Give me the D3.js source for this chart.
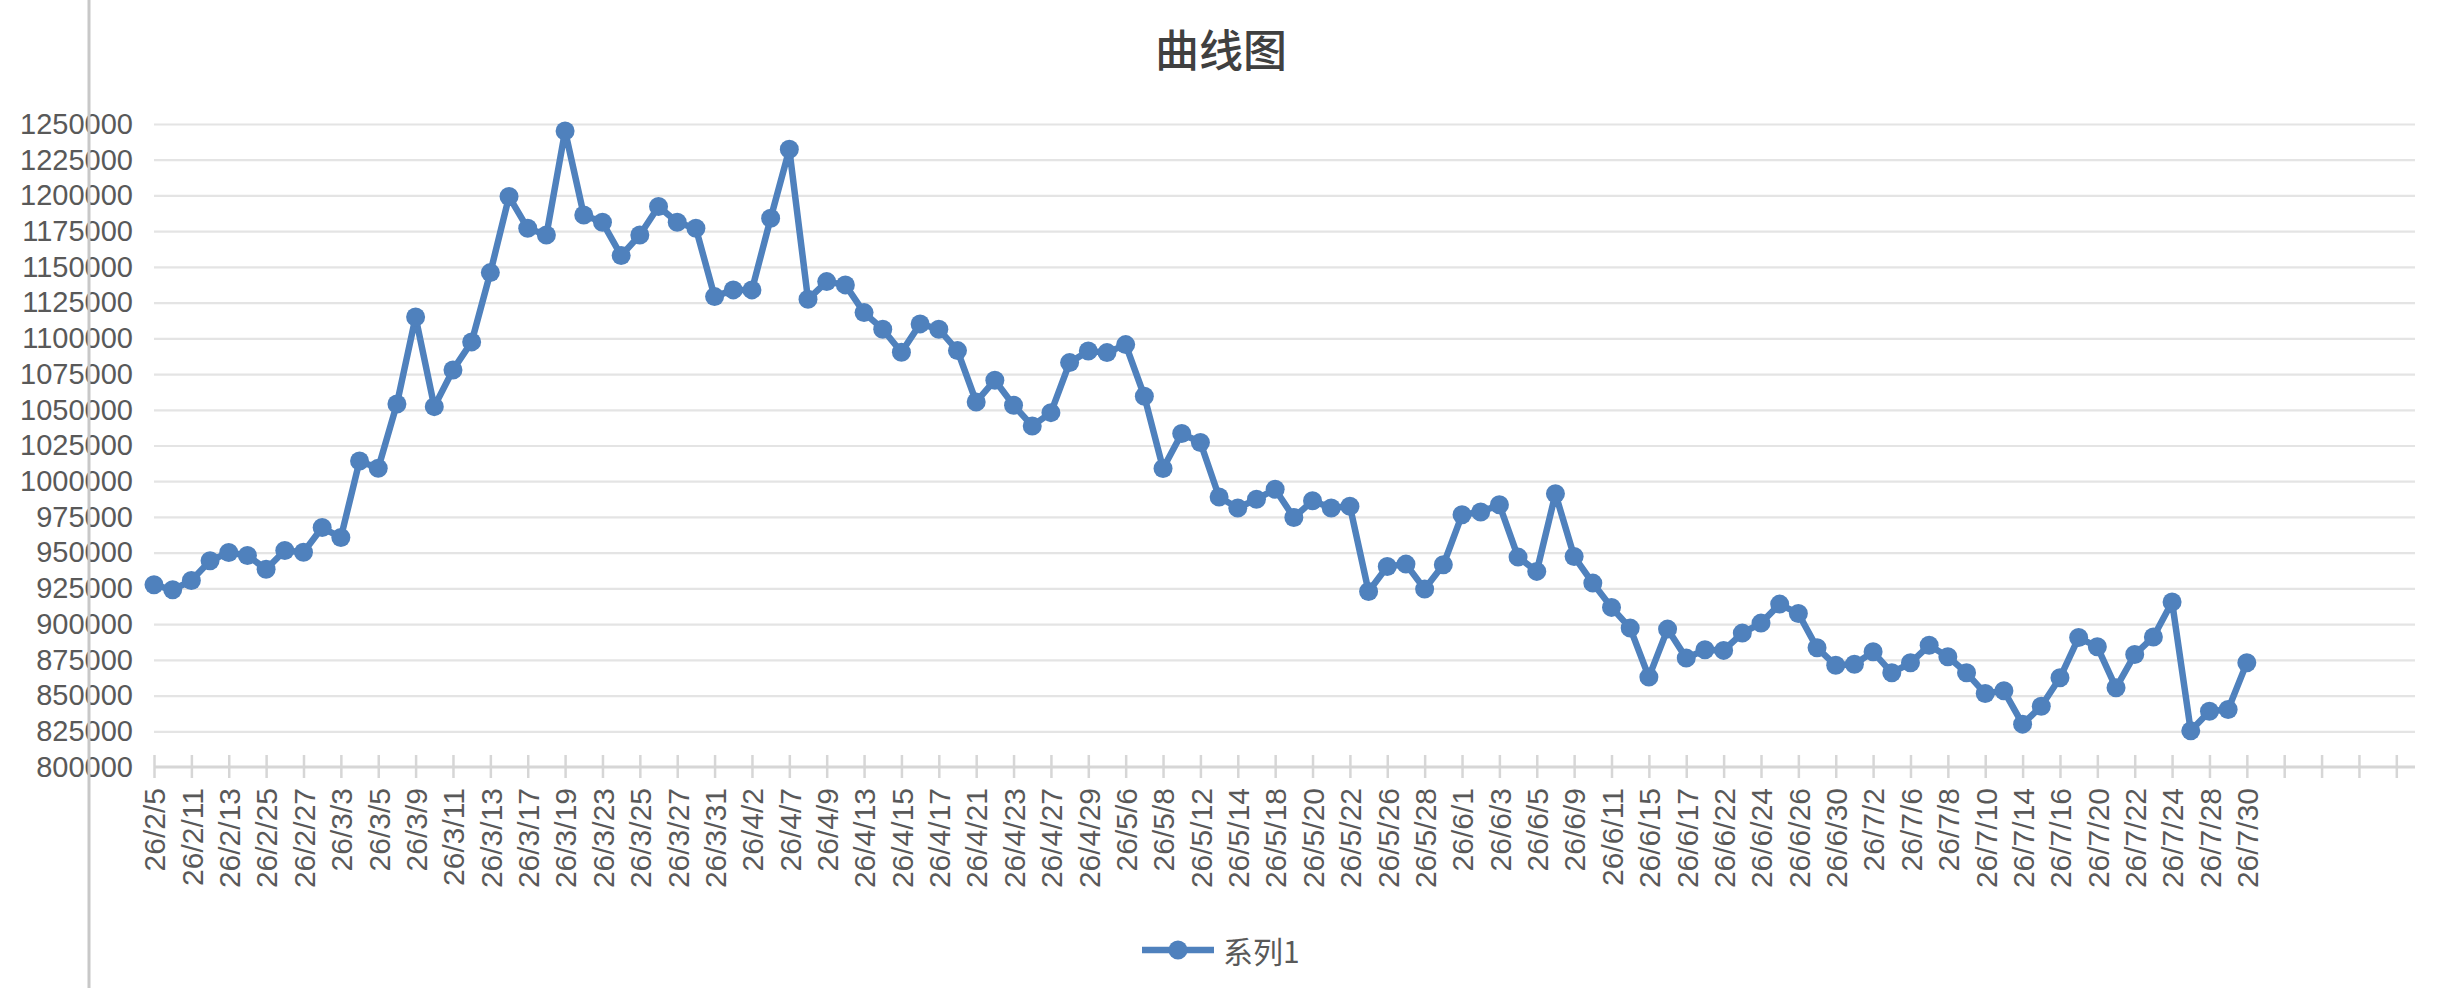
<!DOCTYPE html>
<html><head><meta charset="utf-8">
<script src="https://cdn.jsdelivr.net/npm/d3@7"></script>
<style>html,body{margin:0;padding:0;background:#fff;} svg{display:block;}</style>
</head><body>
<svg id="chart" width="2438" height="988"></svg>
<script>
const title = "曲线图";
const seriesName = "系列1";
const categories = [
"26/2/5","26/2/10","26/2/11","26/2/12","26/2/13","26/2/24","26/2/25","26/2/26","26/2/27","26/3/2",
"26/3/3","26/3/4","26/3/5","26/3/6","26/3/9","26/3/10","26/3/11","26/3/12","26/3/13","26/3/16",
"26/3/17","26/3/18","26/3/19","26/3/20","26/3/23","26/3/24","26/3/25","26/3/26","26/3/27","26/3/30",
"26/3/31","26/4/1","26/4/2","26/4/3","26/4/7","26/4/8","26/4/9","26/4/10","26/4/13","26/4/14",
"26/4/15","26/4/16","26/4/17","26/4/20","26/4/21","26/4/22","26/4/23","26/4/24","26/4/27","26/4/28",
"26/4/29","26/4/30","26/5/6","26/5/7","26/5/8","26/5/11","26/5/12","26/5/13","26/5/14","26/5/15",
"26/5/18","26/5/19","26/5/20","26/5/21","26/5/22","26/5/25","26/5/26","26/5/27","26/5/28","26/5/29",
"26/6/1","26/6/2","26/6/3","26/6/4","26/6/5","26/6/8","26/6/9","26/6/10","26/6/11","26/6/12",
"26/6/15","26/6/16","26/6/17","26/6/18","26/6/22","26/6/23","26/6/24","26/6/25","26/6/26","26/6/29",
"26/6/30","26/7/1","26/7/2","26/7/3","26/7/6","26/7/7","26/7/8","26/7/9","26/7/10","26/7/13",
"26/7/14","26/7/15","26/7/16","26/7/17","26/7/20","26/7/21","26/7/22","26/7/23","26/7/24","26/7/27",
"26/7/28","26/7/29","26/7/30"
];
const values = [
927500, 924000, 930500, 944300, 950100, 948000, 938400, 951500, 950300, 967600,
960600, 1014200, 1009100, 1054100, 1114900, 1052200, 1077900, 1097500, 1146000, 1199200,
1177000, 1172300, 1245100, 1186300, 1181200, 1157900, 1172300, 1192200, 1181200, 1177000,
1129200, 1133900, 1133900, 1184000, 1232300, 1127300, 1139700, 1137400, 1118000, 1106400,
1090300, 1110100, 1106400, 1091400, 1055500, 1070700, 1053200, 1038700, 1048000, 1083000,
1091200, 1090000, 1095600, 1059500, 1008900, 1033400, 1027100, 989000, 981300, 987400,
994400, 974600, 986300, 981300, 982500, 922800, 940300, 942000, 924500, 941500,
976500, 978400, 983500, 946900, 936900, 991200, 947300, 928700, 911700, 897200,
862900, 896500, 876200, 882000, 881600, 893700, 900700, 914000, 907400, 883400,
871200, 871900, 880600, 865900, 872900, 885200, 877100, 865900, 851400, 853300,
830000, 842500, 862400, 890600, 884100, 855400, 878700, 891000, 915500, 825300,
839000, 840200, 872900
];
const blankCategoryCount = 9;
const yTicks = d3.range(800000, 1250001, 25000);

const svg = d3.select("#chart");
const plot = {left: 154, right: 2415, top: 124, bottom: 767};
const nCat = categories.length + blankCategoryCount;
const x = d3.scaleLinear().domain([0, nCat - 1]).range([plot.left, plot.right]);
const y = d3.scaleLinear().domain([800000, 1250000]).range([plot.bottom, plot.top]);
const lineColor = "#4f81bd";
const textColor = "#595959";
const font = "'Liberation Sans', Arial, 'Noto Sans CJK SC', sans-serif";

// gridlines
const grid = svg.append("g").attr("transform", `translate(${plot.left},0)`)
  .call(d3.axisLeft(y).tickValues(yTicks.filter(v => v > 800000)).tickSize(-(plot.right - plot.left)).tickFormat(""));
grid.select(".domain").remove();
grid.selectAll("line").attr("stroke", "#e4e4e4").attr("stroke-width", 2.2);

// y labels
const yAx = svg.append("g").attr("transform", `translate(133,0)`)
  .call(d3.axisLeft(y).tickValues(yTicks).tickSize(0).tickPadding(0).tickFormat(d3.format("d")));
yAx.select(".domain").remove();
yAx.selectAll("text").attr("fill", textColor).style("font-size", "29px").style("font-family", font);

// x axis
svg.append("line").attr("x1", plot.left).attr("x2", plot.right).attr("y1", y(800000)).attr("y2", y(800000))
  .attr("stroke", "#d6d6d6").attr("stroke-width", 3);
const xAx = svg.append("g").attr("transform", `translate(0,${y(800000) - 12})`)
  .call(d3.axisBottom(x).tickValues(d3.range(0, nCat - 1, 2)).tickSizeInner(23).tickSizeOuter(0)
    .tickFormat(i => i < categories.length ? categories[i] : ""));
xAx.select(".domain").remove();
xAx.selectAll("line").attr("stroke", "#d6d6d6").attr("stroke-width", 2.5);
xAx.selectAll("text")
  .attr("transform", "rotate(-90)")
  .attr("x", -33).attr("y", 0).attr("dy", "0.36em")
  .attr("text-anchor", "end")
  .attr("fill", textColor).style("font-size", "30px").style("font-family", font);

// series line
const line = d3.line().x((d, i) => x(i)).y(d => y(d));
svg.append("path").datum(values).attr("d", line).attr("fill", "none")
  .attr("stroke", lineColor).attr("stroke-width", 6.5).attr("stroke-linejoin", "round");
svg.append("g").selectAll("circle").data(values).join("circle")
  .attr("cx", (d, i) => x(i)).attr("cy", d => y(d)).attr("r", 9.5).attr("fill", lineColor);

// title
svg.append("text").attr("x", 1221).attr("y", 48).attr("text-anchor", "middle").attr("dominant-baseline", "central")
  .attr("fill", "#404040").style("font-size", "44px").style("font-weight", "500")
  .style("font-family", "'Noto Sans CJK SC', sans-serif").text(title);

// legend
const lg = svg.append("g");
lg.append("line").attr("x1", 1142).attr("x2", 1214).attr("y1", 950).attr("y2", 950)
  .attr("stroke", lineColor).attr("stroke-width", 6.5);
lg.append("circle").attr("cx", 1178).attr("cy", 950).attr("r", 9.5).attr("fill", lineColor);
lg.append("text").attr("x", 1223).attr("y", 950).attr("dominant-baseline", "central")
  .attr("fill", textColor).style("font-size", "30px").style("font-family", "'Noto Sans CJK SC', sans-serif").text(seriesName);

// window edge line
svg.append("line").attr("x1", 89).attr("x2", 89).attr("y1", 0).attr("y2", 988)
  .attr("stroke", "#c8c8c8").attr("stroke-width", 3);
</script>
</body></html>
